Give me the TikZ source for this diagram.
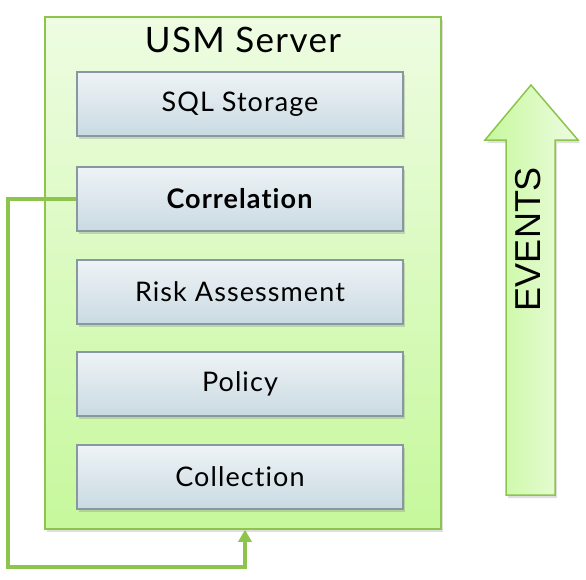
\documentclass[tikz,border=0pt]{standalone}
\usepackage{fontspec}
\setmainfont[LetterSpace=4,Ligatures={NoCommon,NoRare}]{Lato}
\newfontfamily\evfont{Liberation Sans}
\usepackage{tikz}
\usetikzlibrary{arrows.meta,shadows}
\definecolor{gborder}{RGB}{140,196,76}
\definecolor{gtop}{RGB}{238,252,226}
\definecolor{gbot}{RGB}{198,248,156}
\definecolor{btop}{RGB}{238,243,246}
\definecolor{bbot}{RGB}{202,218,226}
\definecolor{bborder}{RGB}{136,152,160}

\begin{document}
\begin{tikzpicture}[x=1pt,y=-1pt]
      \useasboundingbox(0,0) rectangle (586,579);
      \tikzset{S/.style = {draw=gborder, line width=1.5pt, top color=gtop, bottom color=gbot,
        drop shadow={shadow xshift=2pt, shadow yshift=-3pt, opacity=0.25}}}
      \tikzset{B/.style = {draw=bborder, line width=1.2pt, top color=btop, bottom color=bbot,
        minimum width=326pt, minimum height=64pt, inner sep=0pt, font=\fontsize{27}{30}\selectfont,
        drop shadow={shadow xshift=2pt, shadow yshift=-3pt, opacity=0.3}}}
      \tikzset{C/.style = {draw=gborder, line width=3.2pt, -{Triangle[width=13pt,length=12pt]}}}
      \node[S, minimum width=396pt, minimum height=512pt, inner sep=0pt](srv) at (243,273) {};
      \node[font=\fontsize{35}{38}\selectfont](title) at (243,40) {USM Server};
      \node[B](sql) at (240,104) {SQL Storage};
      \node[B](cor) at (240,199) {\textbf{Correlation}};
      \node[B](risk) at (240,292) {Risk Assessment};
      \node[B](pol) at (240,384) {Policy};
      \node[B](col) at (240,477) {Collection};
      \coordinate(c1) at (8,567);
      \draw[C](cor.west) -| (c1) -| ([xshift=2pt]srv.south);
      \shade[draw=gborder, line width=1.5pt, left color=gbot, right color=gtop,
        drop shadow={shadow xshift=2pt, shadow yshift=-3pt, opacity=0.25}]
        (506,495) -- (506,140) -- (485,140) -- (531,85) -- (578,140) -- (555,140) -- (555,495) -- cycle;
      \node[rotate=90, font=\evfont\fontsize{36}{40}\selectfont](ev) at (528,239) {EVENTS};
    \end{tikzpicture}
\end{document}
